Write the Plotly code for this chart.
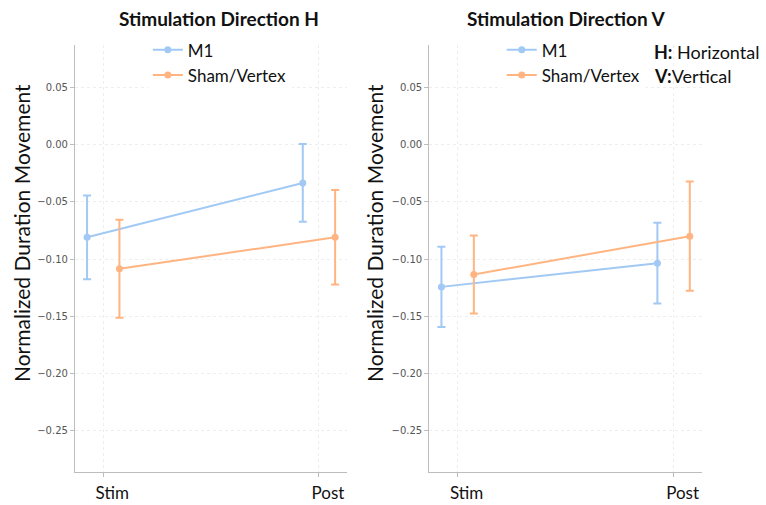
import plotly.graph_objects as go
from plotly.subplots import make_subplots

# Time points and group labels
phases = ["Stim", "Post"]
groups = ["M1", "Sham/Vertex"]
colors = {"M1": "#a1c9f4", "Sham/Vertex": "#ffb482"}
dodge = {"M1": -0.075, "Sham/Vertex": 0.075}

# Mean normalized duration and error for stimulation direction H
h_m1_mean = [-0.081, -0.0335]
h_m1_err = [0.0366, 0.034]
h_sham_mean = [-0.1085, -0.081]
h_sham_err = [0.0428, 0.0413]

# Mean normalized duration and error for stimulation direction V
v_m1_mean = [-0.1243, -0.1036]
v_m1_err = [0.035, 0.0353]
v_sham_mean = [-0.1135, -0.080]
v_sham_err = [0.034, 0.0477]

yticks = [0.05, 0.0, -0.05, -0.10, -0.15, -0.20, -0.25]

panels = [
    {"M1": (h_m1_mean, h_m1_err), "Sham/Vertex": (h_sham_mean, h_sham_err)},
    {"M1": (v_m1_mean, v_m1_err), "Sham/Vertex": (v_sham_mean, v_sham_err)},
]

fig = make_subplots(rows=1, cols=2)

for col, panel in enumerate(panels, start=1):
    for g in groups:
        mean, err = panel[g]
        xs = [i + dodge[g] for i in range(len(phases))]
        fig.add_trace(
            go.Scatter(
                x=xs, y=mean, mode="lines+markers", name=g,
                line=dict(color=colors[g], width=2),
                marker=dict(color=colors[g], size=7),
                error_y=dict(type="data", array=err, visible=True,
                             color=colors[g], thickness=2, width=4),
                legend="legend" if col == 1 else "legend2",
                showlegend=True,
            ),
            row=1, col=col,
        )

ax_common = dict(
    showline=True, linecolor="#bdbdbd", linewidth=1.2,
    showgrid=True, gridcolor="#eeeeee", griddash="dot", gridwidth=1,
    zeroline=False, ticks="outside", ticklen=4, tickcolor="#bdbdbd",
    mirror=False,
)

fig.update_xaxes(
    **ax_common, tickmode="array", tickvals=[0, 1], ticktext=phases,
    range=[-0.131, 1.13], tickfont=dict(family="Lato", size=17, color="#111"),
    ticklabelshift=9, ticklabelstandoff=1,
)
fig.update_yaxes(
    **ax_common, tickmode="array", tickvals=yticks,
    ticktext=[f"{v:.2f}".replace("-", "\u2212") for v in yticks],
    range=[-0.286, 0.087],
    tickfont=dict(family="DejaVu Sans", size=10, color="#555"),
)

legend_style = dict(xanchor="left", yanchor="top",
                    bgcolor="rgba(255,255,255,0.85)",
                    font=dict(family="Lato", size=17, color="#111"),
                    tracegroupgap=0, itemclick=False)

fig.update_layout(
    width=766, height=505,
    margin=dict(l=0, r=0, t=0, b=0),
    plot_bgcolor="white", paper_bgcolor="white",
    xaxis=dict(domain=[0.0979, 0.453]),
    xaxis2=dict(domain=[0.5605, 0.916]),
    yaxis=dict(domain=[0.0653, 0.911]),
    yaxis2=dict(domain=[0.0653, 0.911]),
    legend=dict(x=0.193, y=0.936, **legend_style),
    legend2=dict(x=0.655, y=0.936, **legend_style),
)

# Panel titles, y-axis titles and the direction key
titles = [("Stimulation Direction H", 219), ("Stimulation Direction V", 566)]
for text, xc in titles:
    fig.add_annotation(text=f"<b>{text}</b>", x=xc / 766, y=1 - 18 / 505,
                       xref="paper", yref="paper", showarrow=False,
                       xanchor="center", yanchor="middle",
                       font=dict(family="Lato", size=19, color="#111"))

for xc in (22, 375):
    fig.add_annotation(text="Normalized Duration Movement", x=xc / 766,
                       y=1 - 233 / 505, xref="paper", yref="paper",
                       showarrow=False, textangle=-90,
                       xanchor="center", yanchor="middle",
                       font=dict(family="Lato", size=21, color="#111"))

fig.add_annotation(text="<b>H:</b> Horizontal", x=652 / 766, y=1 - 52 / 505,
                   xref="paper", yref="paper", showarrow=False,
                   xanchor="left", yanchor="middle",
                   font=dict(family="Lato", size=18, color="#111"))
fig.add_annotation(text="<b>V:</b>Vertical", x=652 / 766, y=1 - 76 / 505,
                   xref="paper", yref="paper", showarrow=False,
                   xanchor="left", yanchor="middle",
                   font=dict(family="Lato", size=18, color="#111"))

fig.write_html("out.html")
